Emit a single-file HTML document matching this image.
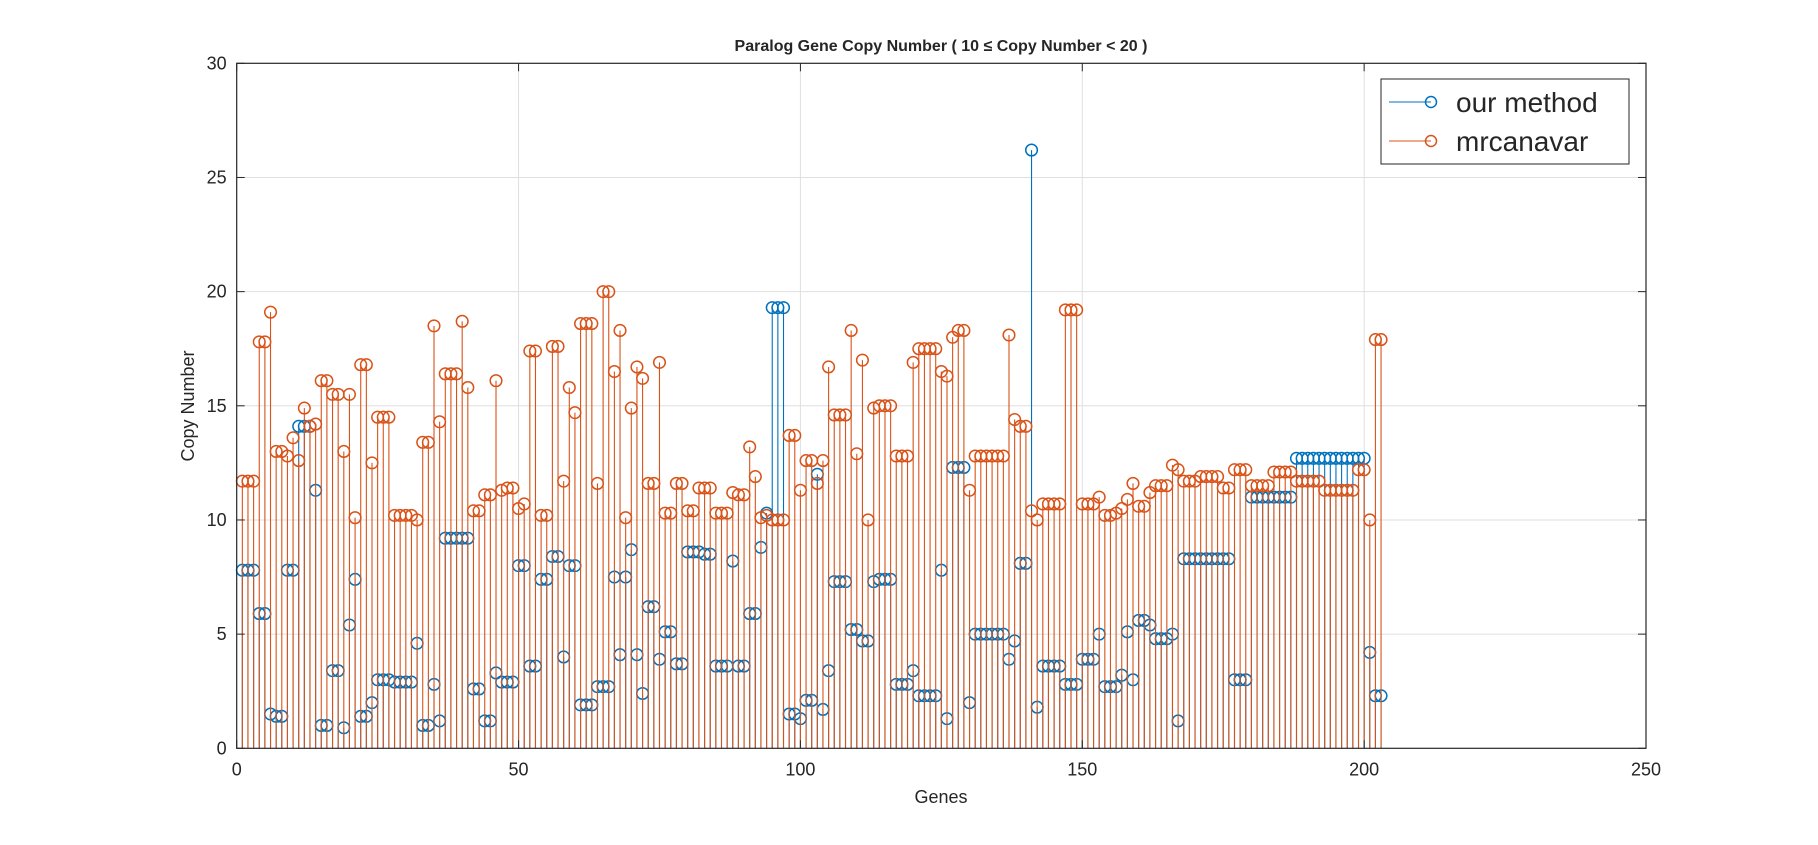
<!DOCTYPE html>
<html><head><meta charset="utf-8"><style>
body{margin:0;background:#fff;}
svg text{font-family:"Liberation Sans",Arial,sans-serif;fill:#262626;}
</style></head><body>
<svg id="chart" width="1818" height="840" xmlns="http://www.w3.org/2000/svg">
<rect width="1818" height="840" fill="#fff"/>
<g id="grid"></g>
<g id="stemsB"></g>
<g id="stemsO"></g>
<g id="axes"></g>
<text x="941" y="51" text-anchor="middle" font-size="16" font-weight="bold" fill="#000">Paralog Gene Copy Number ( 10 ≤ Copy Number &lt; 20 )</text>
<text x="941" y="803" text-anchor="middle" font-size="18">Genes</text>
<text transform="translate(194,406) rotate(-90)" text-anchor="middle" font-size="18">Copy Number</text>
<g>
<rect x="1381" y="79" width="248" height="85" fill="#fff" stroke="#262626" stroke-width="1"/>
<line x1="1389" y1="102" x2="1431" y2="102" stroke="#0072BD" stroke-width="1"/>
<circle cx="1431" cy="102" r="5.5" fill="none" stroke="#0072BD" stroke-width="1.5"/>
<text x="1456" y="112" font-size="28" fill="#000">our method</text>
<line x1="1389" y1="141" x2="1431" y2="141" stroke="#D95319" stroke-width="1"/>
<circle cx="1431" cy="141" r="5.5" fill="none" stroke="#D95319" stroke-width="1.5"/>
<text x="1456" y="151" font-size="28" fill="#000">mrcanavar</text>
</g>
</svg>
<script>
const ourMethod=[7.8,7.8,7.8,5.9,5.9,1.5,1.4,1.4,7.8,7.8,14.1,14.1,14.1,11.3,1.0,1.0,3.4,3.4,0.9,5.4,7.4,1.4,1.4,2.0,3.0,3.0,3.0,2.9,2.9,2.9,2.9,4.6,1.0,1.0,2.8,1.2,9.2,9.2,9.2,9.2,9.2,2.6,2.6,1.2,1.2,3.3,2.9,2.9,2.9,8.0,8.0,3.6,3.6,7.4,7.4,8.4,8.4,4.0,8.0,8.0,1.9,1.9,1.9,2.7,2.7,2.7,7.5,4.1,7.5,8.7,4.1,2.4,6.2,6.2,3.9,5.1,5.1,3.7,3.7,8.6,8.6,8.6,8.5,8.5,3.6,3.6,3.6,8.2,3.6,3.6,5.9,5.9,8.8,10.3,19.3,19.3,19.3,1.5,1.5,1.3,2.1,2.1,12.0,1.7,3.4,7.3,7.3,7.3,5.2,5.2,4.7,4.7,7.3,7.4,7.4,7.4,2.8,2.8,2.8,3.4,2.3,2.3,2.3,2.3,7.8,1.3,12.3,12.3,12.3,2.0,5.0,5.0,5.0,5.0,5.0,5.0,3.9,4.7,8.1,8.1,26.2,1.8,3.6,3.6,3.6,3.6,2.8,2.8,2.8,3.9,3.9,3.9,5.0,2.7,2.7,2.7,3.2,5.1,3.0,5.6,5.6,5.4,4.8,4.8,4.8,5.0,1.2,8.3,8.3,8.3,8.3,8.3,8.3,8.3,8.3,8.3,3.0,3.0,3.0,11.0,11.0,11.0,11.0,11.0,11.0,11.0,11.0,12.7,12.7,12.7,12.7,12.7,12.7,12.7,12.7,12.7,12.7,12.7,12.7,12.7,4.2,2.3,2.3];
const mrcanavar=[11.7,11.7,11.7,17.8,17.8,19.1,13.0,13.0,12.8,13.6,12.6,14.9,14.1,14.2,16.1,16.1,15.5,15.5,13.0,15.5,10.1,16.8,16.8,12.5,14.5,14.5,14.5,10.2,10.2,10.2,10.2,10.0,13.4,13.4,18.5,14.3,16.4,16.4,16.4,18.7,15.8,10.4,10.4,11.1,11.1,16.1,11.3,11.4,11.4,10.5,10.7,17.4,17.4,10.2,10.2,17.6,17.6,11.7,15.8,14.7,18.6,18.6,18.6,11.6,20.0,20.0,16.5,18.3,10.1,14.9,16.7,16.2,11.6,11.6,16.9,10.3,10.3,11.6,11.6,10.4,10.4,11.4,11.4,11.4,10.3,10.3,10.3,11.2,11.1,11.1,13.2,11.9,10.1,10.2,10.0,10.0,10.0,13.7,13.7,11.3,12.6,12.6,11.6,12.6,16.7,14.6,14.6,14.6,18.3,12.9,17.0,10.0,14.9,15.0,15.0,15.0,12.8,12.8,12.8,16.9,17.5,17.5,17.5,17.5,16.5,16.3,18.0,18.3,18.3,11.3,12.8,12.8,12.8,12.8,12.8,12.8,18.1,14.4,14.1,14.1,10.4,10.0,10.7,10.7,10.7,10.7,19.2,19.2,19.2,10.7,10.7,10.7,11.0,10.2,10.2,10.3,10.5,10.9,11.6,10.6,10.6,11.2,11.5,11.5,11.5,12.4,12.2,11.7,11.7,11.7,11.9,11.9,11.9,11.9,11.4,11.4,12.2,12.2,12.2,11.5,11.5,11.5,11.5,12.1,12.1,12.1,12.1,11.7,11.7,11.7,11.7,11.7,11.3,11.3,11.3,11.3,11.3,11.3,12.2,12.2,10.0,17.9,17.9];
const xTicks=[0,50,100,150,200,250];
const yTicks=[0,5,10,15,20,25,30];
const L=236.7,R=1646,T=63.3,B=748.3;
const sx=v=>L+(R-L)*v/250, sy=v=>B-(B-T)*v/30;
const NS='http://www.w3.org/2000/svg';
function mk(t,a,p){const e=document.createElementNS(NS,t);for(const k in a)e.setAttribute(k,a[k]);p.appendChild(e);return e;}
const grid=document.getElementById('grid'),axes=document.getElementById('axes');
xTicks.forEach(v=>{
 if(v>0&&v<250){const g=mk('line',{x1:sx(v),x2:sx(v),y1:T,y2:B,stroke:'#dfdfdf','stroke-width':1},grid);
 
 }
 mk('line',{x1:sx(v),x2:sx(v),y1:B,y2:B-8,stroke:'#262626'},axes);
 mk('line',{x1:sx(v),x2:sx(v),y1:T,y2:T+8,stroke:'#262626'},axes);
 const t=mk('text',{x:sx(v),y:B+27,'text-anchor':'middle','font-size':18},axes);t.textContent=v;
 
 
});
yTicks.forEach(v=>{
 if(v>0&&v<30){const g=mk('line',{x1:L,x2:R,y1:sy(v),y2:sy(v),stroke:'#dfdfdf','stroke-width':1},grid);
 
 }
 mk('line',{x1:L,x2:L+8,y1:sy(v),y2:sy(v),stroke:'#262626'},axes);
 mk('line',{x1:R,x2:R-8,y1:sy(v),y2:sy(v),stroke:'#262626'},axes);
 const t=mk('text',{x:L-10,y:sy(v)+6,'text-anchor':'end','font-size':18},axes);t.textContent=v;
 
 
});
mk('rect',{x:L,y:T,width:R-L,height:B-T,fill:'none',stroke:'#262626','stroke-width':1.2},axes);
function stems(data,color,gid,name){
 const g=document.getElementById(gid);
 data.forEach((v,i)=>{
  const x=sx(i+1);
  const l=mk('line',{x1:x,x2:x,y1:B,y2:sy(v),stroke:color,'stroke-width':1.1},g);
  
  
 });
 data.forEach((v,i)=>{
  const c=mk('circle',{cx:sx(i+1),cy:sy(v),r:5.8,fill:'none',stroke:color,'stroke-width':1.5},g);
  
  
 });
}
stems(ourMethod,'#0072BD','stemsB','our-method');
stems(mrcanavar,'#D95319','stemsO','mrcanavar');
</script>
</body></html>
